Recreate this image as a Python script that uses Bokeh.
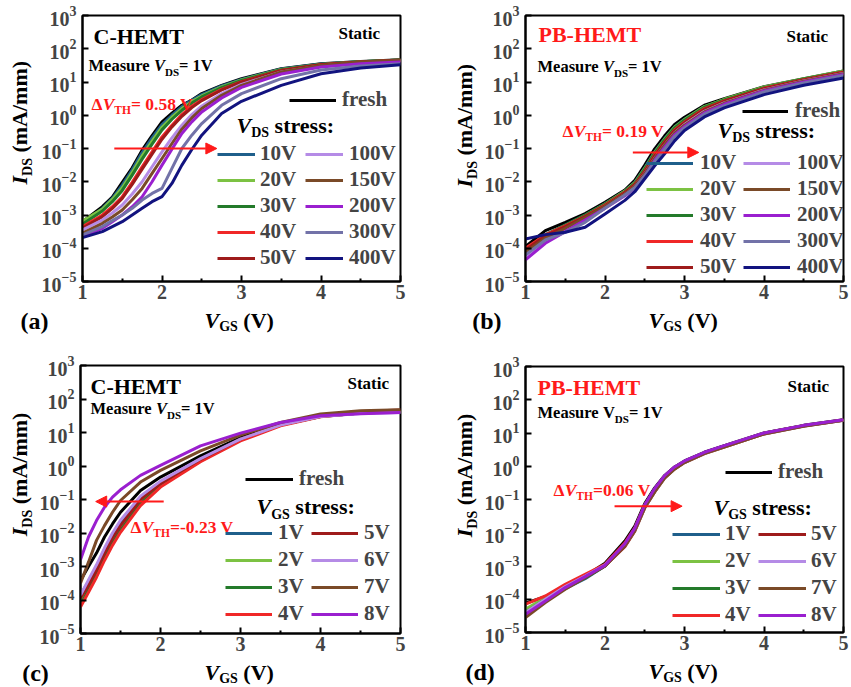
import numpy as np
from math import pi
from bokeh.plotting import figure
from bokeh.layouts import column, row
from bokeh.models import Label, Legend, LegendItem, Arrow, NormalHead, FixedTicker, Range1d
from bokeh.core.properties import value
from bokeh.embed import file_html
from bokeh.resources import INLINE

# ---------------- data (log10 of I_DS in mA/mm) ----------------
X_A = [1.0, 1.25, 1.375, 1.5, 1.625, 1.75, 1.875, 2.0, 2.125, 2.25, 2.375, 2.5, 2.75, 3.0, 3.5, 4.0, 4.5, 5.0]
a_fresh = [-3.2, -2.75, -2.46, -2.02, -1.58, -1.05, -0.61, -0.2, 0.06, 0.3, 0.46, 0.65, 0.9, 1.1, 1.4, 1.55, 1.62, 1.67]
a_10 = [-3.25, -2.8, -2.5, -2.1, -1.64, -1.12, -0.68, -0.28, 0.0, 0.26, 0.45, 0.62, 0.88, 1.08, 1.39, 1.54, 1.61, 1.66]
a_20 = [-3.18, -2.82, -2.53, -2.18, -1.72, -1.22, -0.78, -0.36, -0.06, 0.2, 0.41, 0.58, 0.85, 1.06, 1.38, 1.53, 1.61, 1.66]
a_30 = [-3.28, -2.88, -2.6, -2.26, -1.8, -1.32, -0.87, -0.44, -0.12, 0.15, 0.37, 0.55, 0.83, 1.05, 1.37, 1.53, 1.61, 1.66]
a_40 = [-3.35, -3.0, -2.75, -2.45, -2.02, -1.55, -1.1, -0.65, -0.3, 0.02, 0.27, 0.47, 0.78, 1.01, 1.35, 1.52, 1.6, 1.65]
a_50 = [-3.4, -3.05, -2.8, -2.5, -2.08, -1.62, -1.17, -0.72, -0.35, -0.03, 0.23, 0.44, 0.76, 1.0, 1.35, 1.52, 1.6, 1.66]
a_100 = [-3.45, -3.15, -2.94, -2.7, -2.37, -2.0, -1.55, -1.1, -0.68, -0.3, 0.02, 0.28, 0.65, 0.93, 1.3, 1.48, 1.58, 1.63]
a_150 = [-3.55, -3.25, -3.06, -2.85, -2.54, -2.2, -1.75, -1.3, -0.85, -0.42, -0.08, 0.2, 0.6, 0.9, 1.3, 1.5, 1.6, 1.65]
a_200 = [-3.65, -3.4, -3.2, -3.0, -2.75, -2.45, -2.0, -1.5, -1.02, -0.55, -0.2, 0.1, 0.52, 0.84, 1.24, 1.45, 1.55, 1.6]
a_300 = [-3.6, -3.35, -3.17, -3.0, -2.8, -2.55, -2.35, -2.2, -1.6, -1.0, -0.6, -0.25, 0.3, 0.65, 1.1, 1.36, 1.48, 1.55]
a_400 = [-3.68, -3.5, -3.35, -3.2, -3.0, -2.8, -2.6, -2.45, -2.05, -1.5, -1.03, -0.6, 0.05, 0.42, 0.9, 1.25, 1.42, 1.52]

X_B = [1.0, 1.25, 1.5, 1.75, 2.0, 2.25, 2.375, 2.5, 2.625, 2.75, 2.875, 3.0, 3.25, 3.5, 4.0, 4.5, 5.0]
b_fresh = [-3.95, -3.47, -3.22, -2.96, -2.62, -2.25, -1.96, -1.5, -1.01, -0.62, -0.28, -0.06, 0.3, 0.5, 0.86, 1.1, 1.33]
b_10 = [-4.05, -3.6, -3.3, -3.0, -2.66, -2.28, -2.02, -1.58, -1.1, -0.7, -0.35, -0.12, 0.26, 0.47, 0.84, 1.08, 1.31]
b_20 = [-4.1, -3.62, -3.32, -3.02, -2.67, -2.28, -2.03, -1.6, -1.12, -0.72, -0.36, -0.13, 0.26, 0.48, 0.85, 1.1, 1.33]
b_30 = [-4.05, -3.6, -3.3, -3.0, -2.67, -2.3, -2.05, -1.62, -1.14, -0.74, -0.38, -0.15, 0.24, 0.46, 0.83, 1.09, 1.31]
b_40 = [-4.0, -3.6, -3.33, -3.04, -2.7, -2.32, -2.08, -1.68, -1.2, -0.8, -0.44, -0.2, 0.2, 0.43, 0.81, 1.07, 1.3]
b_50 = [-4.05, -3.62, -3.35, -3.05, -2.72, -2.33, -2.09, -1.7, -1.22, -0.82, -0.46, -0.22, 0.18, 0.42, 0.8, 1.06, 1.29]
b_100 = [-4.3, -3.8, -3.45, -3.12, -2.76, -2.38, -2.14, -1.76, -1.3, -0.9, -0.53, -0.28, 0.12, 0.37, 0.76, 1.03, 1.26]
b_150 = [-4.12, -3.7, -3.4, -3.08, -2.74, -2.37, -2.13, -1.76, -1.3, -0.9, -0.54, -0.3, 0.1, 0.36, 0.75, 1.02, 1.25]
b_200 = [-4.35, -3.85, -3.5, -3.15, -2.8, -2.42, -2.19, -1.82, -1.36, -0.96, -0.59, -0.34, 0.07, 0.33, 0.73, 1.0, 1.23]
b_300 = [-4.2, -3.75, -3.52, -3.22, -2.8, -2.4, -2.18, -1.82, -1.4, -1.02, -0.64, -0.38, 0.03, 0.28, 0.7, 0.97, 1.2]
b_400 = [-3.72, -3.59, -3.52, -3.37, -2.97, -2.56, -2.3, -1.91, -1.52, -1.16, -0.77, -0.46, -0.05, 0.22, 0.62, 0.9, 1.12]

X_C = [1.0, 1.1, 1.2, 1.3, 1.4, 1.5, 1.75, 2.0, 2.5, 3.0, 3.5, 4.0, 4.5, 5.0]
c_fresh = [-3.42, -3.0, -2.6, -2.12, -1.73, -1.38, -0.73, -0.33, 0.3, 0.85, 1.25, 1.5, 1.6, 1.63]
c_1 = [-3.85, -3.45, -3.0, -2.5, -2.07, -1.7, -0.95, -0.5, 0.2, 0.8, 1.22, 1.48, 1.58, 1.62]
c_2 = [-4.0, -3.6, -3.15, -2.65, -2.2, -1.82, -1.05, -0.56, 0.17, 0.78, 1.22, 1.48, 1.58, 1.62]
c_3 = [-4.15, -3.7, -3.25, -2.75, -2.3, -1.92, -1.12, -0.6, 0.15, 0.77, 1.22, 1.48, 1.58, 1.62]
c_4 = [-4.21, -3.77, -3.32, -2.82, -2.37, -1.98, -1.18, -0.63, 0.13, 0.75, 1.2, 1.47, 1.58, 1.62]
c_5 = [-3.95, -3.55, -3.1, -2.6, -2.15, -1.78, -1.0, -0.52, 0.2, 0.8, 1.24, 1.52, 1.63, 1.67]
c_6 = [-3.85, -3.4, -2.95, -2.45, -2.0, -1.62, -0.9, -0.45, 0.22, 0.8, 1.22, 1.48, 1.57, 1.6]
c_7 = [-3.5, -2.87, -2.22, -1.78, -1.38, -1.03, -0.48, -0.13, 0.45, 0.92, 1.3, 1.55, 1.65, 1.68]
c_8 = [-2.8, -2.12, -1.63, -1.23, -0.93, -0.71, -0.28, 0.02, 0.6, 0.98, 1.3, 1.5, 1.56, 1.6]

X_D = [1.0, 1.25, 1.5, 1.75, 2.0, 2.25, 2.375, 2.5, 2.625, 2.75, 2.875, 3.0, 3.25, 3.5, 4.0, 4.5, 5.0]
d_fresh = [-4.12, -3.92, -3.6, -3.3, -2.92, -2.25, -1.8, -1.12, -0.65, -0.28, -0.02, 0.16, 0.42, 0.62, 1.0, 1.23, 1.4]
d_1 = [-4.35, -4.0, -3.68, -3.38, -3.0, -2.33, -1.88, -1.18, -0.7, -0.3, -0.04, 0.14, 0.4, 0.6, 0.99, 1.22, 1.39]
d_2 = [-4.3, -3.95, -3.6, -3.3, -2.98, -2.33, -1.88, -1.18, -0.7, -0.3, -0.04, 0.14, 0.4, 0.6, 0.99, 1.22, 1.39]
d_3 = [-4.4, -4.0, -3.66, -3.35, -3.0, -2.34, -1.89, -1.18, -0.7, -0.3, -0.04, 0.14, 0.4, 0.6, 0.99, 1.22, 1.39]
d_4 = [-4.15, -3.9, -3.55, -3.25, -2.95, -2.3, -1.85, -1.17, -0.69, -0.3, -0.04, 0.14, 0.4, 0.6, 0.99, 1.22, 1.39]
d_5 = [-4.45, -4.05, -3.65, -3.32, -3.0, -2.42, -1.95, -1.25, -0.77, -0.35, -0.08, 0.11, 0.38, 0.58, 0.97, 1.21, 1.38]
d_6 = [-4.4, -4.0, -3.62, -3.3, -2.97, -2.38, -1.92, -1.24, -0.76, -0.34, -0.07, 0.12, 0.39, 0.59, 0.98, 1.21, 1.38]
d_7 = [-4.55, -4.1, -3.7, -3.35, -3.0, -2.4, -1.94, -1.25, -0.77, -0.36, -0.09, 0.11, 0.38, 0.58, 0.97, 1.2, 1.38]
d_8 = [-4.45, -4.05, -3.65, -3.32, -2.98, -2.33, -1.86, -1.16, -0.67, -0.28, -0.02, 0.16, 0.42, 0.62, 1.0, 1.23, 1.4]

LABELS_VDS = ["10V", "20V", "30V", "40V", "50V", "100V", "150V", "200V", "300V", "400V"]
LABELS_VGS = ["1V", "2V", "3V", "4V", "5V", "6V", "7V", "8V"]
X_TICKS = [1, 2, 3, 4, 5]
X_MINOR = [1.5, 2.5, 3.5, 4.5]
Y_TICKS = [1e-5, 1e-4, 1e-3, 1e-2, 1e-1, 1e0, 1e1, 1e2, 1e3]

COL_VDS = ["#1F5F8B", "#7CC243", "#237A2A", "#F02828", "#9E1B1B",
           "#B58BE6", "#7A4A28", "#9A1FCF", "#7272A8", "#12137F"]
COL_VGS = ["#1F5F8B", "#7CC243", "#237A2A", "#F02828", "#9E1B1B",
           "#B58BE6", "#7A4A28", "#9A1FCF"]

FONT = "Liberation Serif"
RED = "#FF1A1A"
K_BASE = 0.34   # Bokeh centres the text box on the anchor; shift to a true baseline

WB = {' ': 250, 'M': 943, 'e': 443, 'a': 500, 's': 389, 'u': 556, 'r': 443, 'V': 722,
      'D': 722, 'S': 556, '=': 570, '1': 500, '0': 500, '.': 250, '5': 500, '8': 500,
      '9': 500, '6': 500, '2': 500, '3': 500, '\u0394': 640, '-': 333, 'T': 667,
      'H': 778, 't': 333, 'i': 278, 'c': 443, '(': 333, ')': 333, 'm': 833, 'A': 722,
      '/': 278, ':': 333, 'G': 778, 'I': 389, 'C': 722, 'P': 611, 'B': 667, 'E': 667,
      'f': 333, 'h': 556}
WBI = {'V': 667, 'I': 389, 'D': 722, 'S': 556, 'G': 722, 'T': 611, 'H': 778}


def tw(s, size, italic=False):
    tab = WBI if italic else WB
    return sum(tab.get(ch, WB.get(ch, 500)) for ch in s) * size / 1000.0


def make_main(w, h, L, R, T, B):
    p = figure(width=w, height=h, x_range=Range1d(1, 5), y_range=Range1d(1e-5, 1e3),
               y_axis_type="log", output_backend="svg", toolbar_location=None, title=None,
               min_border_left=L, min_border_right=R, min_border_top=T, min_border_bottom=B)
    p.xgrid.visible = False
    p.ygrid.visible = False
    p.outline_line_color = "black"
    p.outline_line_width = 2
    p.outline_line_alpha = 1
    p.background_fill_color = "white"
    p.border_fill_color = "white"
    p.xaxis.ticker = FixedTicker(ticks=X_TICKS, minor_ticks=X_MINOR)
    p.yaxis.ticker = FixedTicker(ticks=Y_TICKS)
    for ax in (p.xaxis[0], p.yaxis[0]):
        ax.axis_line_width = 2
        ax.major_tick_in = 6
        ax.major_tick_out = 0
        ax.major_tick_line_width = 2
        ax.minor_tick_in = 3
        ax.minor_tick_out = 0
        ax.minor_tick_line_width = 2
        ax.major_label_text_font = FONT
        ax.major_label_text_font_size = "20px"
        ax.major_label_text_font_style = "bold"
    p.xaxis.major_label_standoff = 3
    p.yaxis.major_label_standoff = 6
    p.yaxis.minor_tick_line_color = None
    return p


def make_strip(w, h):
    s = figure(width=w, height=h, x_range=Range1d(0, 1), y_range=Range1d(0, 1),
               x_axis_type=None, y_axis_type=None, output_backend="svg",
               toolbar_location=None, title=None, min_border=0)
    s.outline_line_color = None
    s.xgrid.visible = False
    s.ygrid.visible = False
    s.background_fill_color = "white"
    s.border_fill_color = "white"
    return s


def rich(p, geo, X, Yb, parts, color="black", vertical=False):
    """parts: (text, size, italic, dy); X, Yb panel-local coords of the baseline start.
    geo = (frame left, frame bottom) of host figure in panel-local coords."""
    L, fb = geo
    pos = 0.0
    for text, size, italic, dy in parts:
        lead = len(text) - len(text.lstrip(" "))
        shown = text.strip(" ")
        off = pos + tw(" " * lead, size, italic)
        down = dy - K_BASE * size
        if not vertical:
            sx = X + off - L
            sy = fb - (Yb + down)
            ang = 0
        else:
            sx = X + down - L
            sy = fb - (Yb - off)
            ang = pi / 2
        p.add_layout(Label(x=sx, y=sy, x_units="screen", y_units="screen", text=shown,
                           text_font=FONT, text_font_size=f"{size}px",
                           text_font_style="bold italic" if italic else "bold",
                           text_color=color, text_align="left", text_baseline="alphabetic",
                           angle=ang))
        pos += tw(text, size, italic)


def add_legend(p, items, x, y, gw, standoff, spacing=1):
    lg = Legend(items=items, location=(x, y), orientation="vertical", glyph_width=gw,
                glyph_height=20, label_height=20, spacing=spacing, padding=0, margin=0,
                label_standoff=standoff, label_text_font=FONT, label_text_font_size="21px",
                label_text_font_style="bold", border_line_alpha=0, background_fill_alpha=0)
    p.add_layout(lg)


def arrow(p, x0, x1, y):
    p.add_layout(Arrow(end=NormalHead(size=11, fill_color=RED, line_color=RED, line_width=1),
                       x_start=x0, y_start=y, x_end=x1, y_end=y,
                       line_color=RED, line_width=2))


def panel(W, H, L, R, T, fb, ysw, mh, X, fresh, series, labels, colors, t):
    p = make_main(W - ysw, mh, L - ysw, R, T, mh - fb)
    rf = p.line(X, np.power(10.0, fresh), line_color="black", line_width=3)
    rs = [p.line(X, np.power(10.0, s), line_color=c, line_width=3)
          for s, c in zip(series, colors)]
    ys = make_strip(ysw, mh)
    xs = make_strip(W, H - mh)
    g = (L, fb)
    rich(p, g, *t["title"], [(t["title_text"], 22, False, 0)], color=t["title_col"])
    rich(p, g, *t["static"], [("Static", 17, False, 0)])
    rich(p, g, *t["measure"], [("Measure ", 16.5, False, 0), ("V", 16.5, t["m_italic"], 0),
                               ("DS", 11, False, 4), ("= 1V", 16.5, False, 0)])
    rich(p, g, *t["dvth"], [("\u0394", 17.5, False, 0), ("V", 17.5, True, 0),
                            ("TH", 11.5, False, 4), (t["dvth_text"], 17.5, False, 0)], color=RED)
    rich(p, g, *t["head"], [("V", 22, True, 0), (t["head_sub"], 14, False, 5),
                            (" stress:", 22, False, 0)])
    # y label in the left strip (frame = whole strip)
    rich(ys, (0, mh), *t["ylab"], [("I", 22, True, 0), ("DS", 14, False, 5),
                                   (" (mA/mm)", 22, False, 0)], vertical=True)
    # x label and panel letter in the bottom strip
    rich(xs, (0, H), *t["xlab"], [("V", 22, True, 0), ("GS", 14, False, 4),
                                  (" (V)", 22, False, 0)])
    rich(xs, (0, H), *t["letter"], [(t["letter_text"], 24, False, 0)])
    arrow(p, *t["arrow"])
    lg = t["leg"]
    n = len(labels) // 2
    add_legend(p, [LegendItem(label=value("fresh"), renderers=[rf])], *lg["fresh"])
    add_legend(p, [LegendItem(label=value(l), renderers=[r]) for l, r in zip(labels[:n], rs[:n])],
               *lg["c1"])
    add_legend(p, [LegendItem(label=value(l), renderers=[r]) for l, r in zip(labels[n:], rs[n:])],
               *lg["c2"])
    return column(row(ys, p, spacing=0), xs, spacing=0)


PA = panel(425, 340, 82, 25, 15, 281, 38, 307, X_A, a_fresh,
           [a_10, a_20, a_30, a_40, a_50, a_100, a_150, a_200, a_300, a_400], LABELS_VDS, COL_VDS,
           dict(title=(93, 43.3), title_text="C-HEMT", title_col="black", static=(338, 38.3),
                measure=(88, 71), m_italic=True, dvth=(91, 109), dvth_text="= 0.58 V",
                head=(236, 132), head_sub="DS", ylab=(26.7, 210), xlab=(204, 327),
                letter=(20, 329), letter_text="(a)", arrow=(1.40, 2.69, 0.1),
                leg=dict(fresh=(207, 169, 47, 6), c1=(135, 11, 38, 5), c2=(223, 11, 38, 6))))

PB = panel(426, 340, 100, 8, 15, 281, 56, 307, X_B, b_fresh,
           [b_10, b_20, b_30, b_40, b_50, b_100, b_150, b_200, b_300, b_400], LABELS_VDS, COL_VDS,
           dict(title=(113, 41.7), title_text="PB-HEMT", title_col=RED, static=(361, 41.7),
                measure=(112, 72), m_italic=True, dvth=(137, 136), dvth_text="= 0.19 V",
                head=(292, 137), head_sub="DS", ylab=(46.7, 213), xlab=(223, 327),
                letter=(46.7, 329), letter_text="(b)", arrow=(2.35, 3.18, 0.076),
                leg=dict(fresh=(217, 158, 46, 7), c1=(121, 2, 47, 7), c2=(218, 2, 47, 7))))

PC = panel(425, 347, 80, 25, 25, 293, 36, 319, X_C, c_fresh,
           [c_1, c_2, c_3, c_4, c_5, c_6, c_7, c_8], LABELS_VGS, COL_VGS,
           dict(title=(90, 53), title_text="C-HEMT", title_col="black", static=(347, 49),
                measure=(90, 74), m_italic=True, dvth=(130, 192), dvth_text="=-0.23 V",
                head=(256, 173.3), head_sub="GS", ylab=(26.7, 221.7), xlab=(204, 339),
                letter=(21.7, 341), letter_text="(c)", arrow=(2.04, 1.19, 0.087),
                leg=dict(fresh=(165, 142, 48, 6), c1=(145, 7, 47, 6, 2), c2=(231, 7, 47, 6, 2))))

PD = panel(426, 347, 100, 8, 26, 292, 56, 318, X_D, d_fresh,
           [d_1, d_2, d_3, d_4, d_5, d_6, d_7, d_8], LABELS_VGS, COL_VGS,
           dict(title=(112, 54), title_text="PB-HEMT", title_col=RED, static=(362, 51.7),
                measure=(112, 78), m_italic=False, dvth=(128, 155), dvth_text="=0.06 V",
                head=(288, 174), head_sub="GS", ylab=(46.7, 222.7), xlab=(223, 338),
                letter=(40, 340), letter_text="(d)", arrow=(2.12, 2.97, 0.063),
                leg=dict(fresh=(200, 148, 47, 6), c1=(147, 5, 48, 5, 2), c2=(233, 5, 48, 5, 2))))

layout = column(row(PA, PB, spacing=0), row(PC, PD, spacing=0), spacing=0)
open("out.html", "w").write(file_html(layout, INLINE))
